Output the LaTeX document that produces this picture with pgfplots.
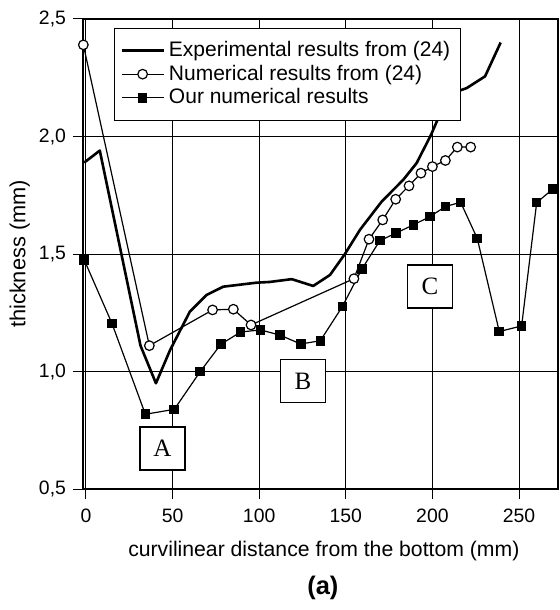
\documentclass[border=0pt]{standalone}
\usepackage{pgfplots}
\pgfplotsset{compat=1.18}
\usepackage{fontspec}
\setmainfont{Liberation Sans}
\newfontfamily\serifA{Liberation Serif}
\begin{document}
\begin{tikzpicture}
\begin{axis}[
  scale only axis, width=237.5pt, height=235pt,
  xmin=-1.7, xmax=272.5, ymin=0.5, ymax=2.5,
  xtick={0,50,...,250}, ytick={0.5,1.0,1.5,2.0,2.5},
  grid=major, grid style={black, line width=0.5pt},
  axis line style={black, line width=0.6pt},
  tick align=outside, major tick length=5pt,
  tick style={black, line width=0.5pt},
  xtick pos=bottom, ytick pos=left,
  ticklabel style={font=\fontsize{9.7}{11}\selectfont},
  xticklabel style={yshift=-1.5pt},
  /pgf/number format/assume math mode=true,
  yticklabel style={/pgf/number format/fixed, /pgf/number format/fixed zerofill,
    /pgf/number format/precision=1, /pgf/number format/use comma},
  clip=false,
  legend style={at={(rel axis cs:0.065,0.981)}, anchor=north west,
    font=\fontsize{10.5}{11.5}\selectfont, draw=black, fill=white,
    cells={anchor=west}, row sep=-1.25pt, inner xsep=3pt, inner ysep=4.5pt},
  legend image code/.code={\draw[mark repeat=2,mark phase=2] plot coordinates {(0cm,0cm) (0.37cm,0cm) (0.74cm,0cm)};},
]
\addplot[black, line width=1.3pt, line join=round] coordinates {
(-1,1.889) (8,1.94) (31.5,1.11) (40.4,0.95) (48.5,1.09) (60,1.255) (69.7,1.326)
(79.3,1.361) (98.5,1.378) (106,1.381) (118.8,1.393) (131.2,1.364) (140.9,1.411)
(149.5,1.5) (158.2,1.603) (170.7,1.723) (183.2,1.816) (190.9,1.887) (199.2,2.007)
(209.2,2.178) (219.8,2.206) (230.4,2.256) (239.4,2.40)};
\addlegendentry{Experimental results from (24)}
\addplot[black, line width=0.6pt, mark=*, mark size=2.4pt, mark options={fill=white, solid}] coordinates {
(-1.5,2.39) (36.6,1.110) (73.1,1.262) (85.1,1.265) (95.3,1.198) (154.7,1.395)
(163.4,1.563) (171.3,1.645) (178.8,1.733) (186.5,1.790) (193.4,1.844) (200.0,1.872)
(207.5,1.898) (214.4,1.955) (222.1,1.955)};
\addlegendentry{Numerical results from (24)}
\addplot[black, line width=0.6pt, mark=square*, mark size=2.1pt, mark options={fill=black, solid}] coordinates {
(-1,1.475) (15,1.205) (34.3,0.818) (51,0.839) (66,1.0) (77.9,1.116) (89.3,1.168)
(100.8,1.177) (111.9,1.155) (124,1.117) (135.3,1.131) (148,1.276) (159.2,1.435)
(169.7,1.557) (179,1.589) (189,1.624) (198.6,1.659) (207.5,1.702) (216.3,1.720)
(225.9,1.566) (238.6,1.170) (251.5,1.194) (260.2,1.719) (269.5,1.776)};
\addlegendentry{Our numerical results}
\node[draw, fill=white, font=\serifA\fontsize{12.5}{14}\selectfont, minimum width=22.5pt, minimum height=21.5pt, inner sep=0pt, line width=0.6pt] at (axis cs:44.2,0.672) {A};
\node[draw, fill=white, font=\serifA\fontsize{12.5}{14}\selectfont, minimum width=22.5pt, minimum height=21.5pt, inner sep=0pt, line width=0.6pt] at (axis cs:125.3,0.96) {B};
\node[draw, fill=white, font=\serifA\fontsize{12.5}{14}\selectfont, minimum width=22.5pt, minimum height=21.5pt, inner sep=0pt, line width=0.6pt] at (axis cs:198.6,1.362) {C};
\node[font=\fontsize{10.6}{12}\selectfont] at (rel axis cs:0.507,-0.132) {curvilinear distance from the bottom (mm)};
\node[rotate=90, font=\fontsize{10.9}{12}\selectfont] at (rel axis cs:-0.133,0.5) {thickness (mm)};
\node[font=\bfseries\fontsize{12.7}{14}\selectfont] at (rel axis cs:0.505,-0.211) {(a)};
\coordinate (sw) at (rel axis cs:0,0);
\coordinate (ne) at (rel axis cs:1,1);
\end{axis}
\pgfresetboundingbox
\path ([xshift=-41.5pt,yshift=-60.5pt]sw) rectangle ([xshift=1pt,yshift=9.5pt]ne);
\end{tikzpicture}
\end{document}
